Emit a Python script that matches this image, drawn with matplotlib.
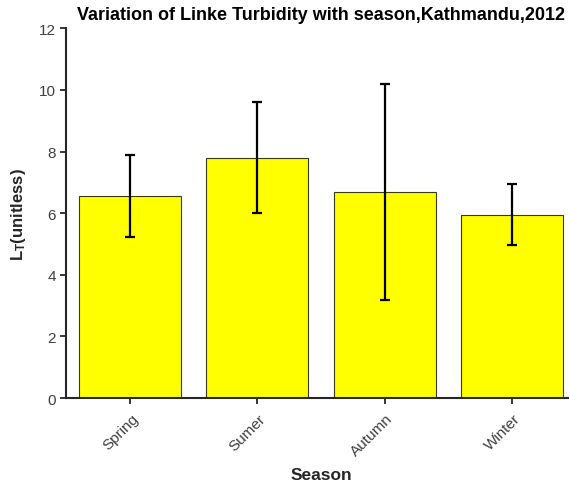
import matplotlib
matplotlib.use('Agg')
import matplotlib.pyplot as plt
import matplotlib.transforms as mtransforms
import numpy as np

plt.rcParams['font.family'] = ['Liberation Sans', 'DejaVu Sans']
plt.rcParams['mathtext.fontset'] = 'custom'
plt.rcParams['mathtext.bf'] = 'Liberation Sans:bold'
plt.rcParams['mathtext.rm'] = 'Liberation Sans'

seasons = ['Spring', 'Sumer', 'Autumn', 'Winter']
lt_mean = [6.55, 7.80, 6.68, 5.95]
lt_err = [1.33, 1.80, 3.50, 0.98]

axis_col = '#262626'

fig = plt.figure(figsize=(5.69, 4.85), dpi=100)
ax = fig.add_axes([0.1167, 0.1773, 0.895, 0.7623])

x = np.arange(1, len(seasons) + 1)
ax.bar(x, lt_mean, width=0.8, color='#ffff00', edgecolor='#3a3a1a', linewidth=0.8, zorder=2)
ax.errorbar(x, lt_mean, yerr=lt_err, fmt='none', ecolor='black',
            elinewidth=1.6, capsize=3.3, capthick=1.6, zorder=3)

ax.set_xlim(0.5, 4.5)
ax.set_ylim(0, 12)
ax.set_yticks(np.arange(0, 13, 2))
ax.set_xticks(x)
ax.set_xticklabels(seasons, rotation=45, ha='right', va='center', rotation_mode='anchor')

for s in ['top', 'right']:
    ax.spines[s].set_visible(False)
for s in ['left', 'bottom']:
    ax.spines[s].set_color(axis_col)
    ax.spines[s].set_linewidth(1.5)
ax.tick_params(direction='out', length=4, width=1.3, color=axis_col,
               labelcolor='#404040', labelsize=11)
ax.tick_params(axis='x', pad=9)

# nudge rotated labels to the right, like the original (after tick_params, which resets transforms)
shift = mtransforms.ScaledTranslation(6 / 100, 0, fig.dpi_scale_trans)
for tick in ax.xaxis.get_major_ticks():
    tick.label1.set_transform(tick.label1.get_transform() + shift)

ax.set_title('Variation of Linke Turbidity with season,Kathmandu,2012',
             fontsize=13, fontweight='bold', color='black', pad=7)
ax.set_xlabel('Season', fontsize=12.5, fontweight='bold', color=axis_col, labelpad=6)
ax.set_ylabel(r'$\mathbf{L_T}$(unitless)', fontsize=12, fontweight='bold',
              color=axis_col, labelpad=8)

fig.savefig('out.png', dpi=100)
